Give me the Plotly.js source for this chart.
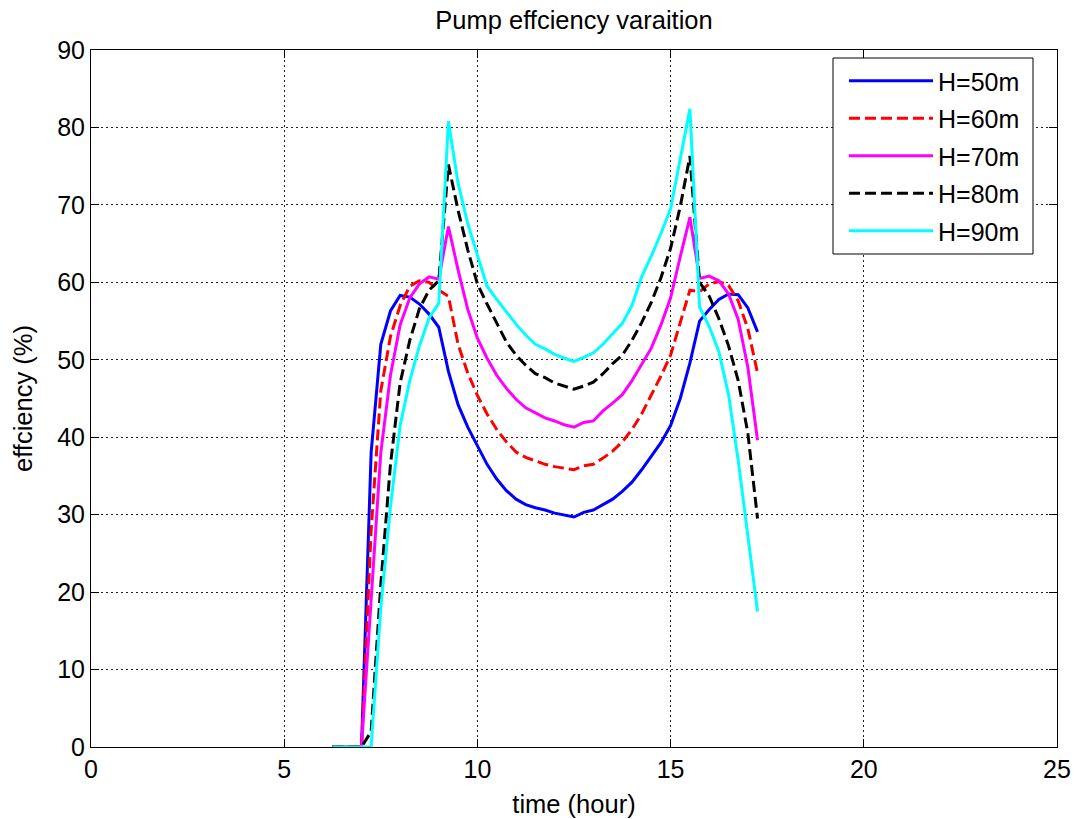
<!DOCTYPE html>
<html>
<head>
<meta charset="utf-8">
<script src="https://cdn.plot.ly/plotly-3.0.1.min.js"></script>
<style>html,body{margin:0;padding:0;background:#fff;}#chart{width:1074px;height:819px;}</style>
</head>
<body>
<div id="chart"></div>
<script>
var timeHours = [6.25,6.5,6.75,7.0,7.25,7.5,7.75,8.0,8.25,8.5,8.75,9.0,9.25,9.5,9.75,10.0,10.25,10.5,10.75,11.0,11.25,11.5,11.75,12.0,12.25,12.5,12.75,13.0,13.25,13.5,13.75,14.0,14.25,14.5,14.75,15.0,15.25,15.5,15.75,16.0,16.25,16.5,16.75,17.0,17.25];

var effH50 = [0,0,0,0,38,52,56.3,58.3,58.1,57.2,55.9,54.2,48.5,44.2,41.3,38.9,36.5,34.6,33.1,32,31.3,30.9,30.6,30.2,29.9,29.7,30.3,30.6,31.3,32,33,34.2,35.8,37.5,39.3,41.5,45,49.6,55,56.5,57.8,58.5,58.4,56.7,53.6];
var effH60 = [0,0,0,0,28,46,53,57,59.5,60.2,60,59,58.2,52,48.3,45.4,43,41,39.4,38.1,37.4,36.9,36.5,36.2,36,35.8,36.3,36.5,37.3,38.2,39.4,41,43,45.4,47.9,50.6,54.8,59,58.8,59.8,60.1,59.6,57.6,54,48.3];
var effH70 = [0,0,0,0,19,38,48,54.5,58,59.8,60.7,60.4,67.2,61.6,56.5,52.8,50.2,48,46.3,44.9,43.8,43.1,42.5,42.1,41.6,41.3,41.9,42.1,43.4,44.4,45.5,47.3,49.4,51.5,54.5,58,63.3,68.4,60.5,60.8,60.2,58.5,55.2,49,39.6];
var effH80 = [0,0,0,0,2,21,36.5,47,52.5,56.6,59,60.2,75.2,69.3,64.2,59.8,57.2,54.8,52.3,50.6,49.3,48.2,47.7,47,46.6,46.2,46.6,47.1,48.2,49.5,50.6,52.5,54.8,57.4,60.6,64.4,69.8,76.3,60,58.2,55.3,51.8,47.3,40.5,29.5];
var effH90 = [0,0,0,0,0,18,31,41.5,47.3,51.8,55.4,57.3,80.8,72.8,67.6,63.5,59.5,57.8,56.2,54.6,53.2,52,51.4,50.7,50.2,49.8,50.3,50.9,52,53.4,54.7,57,60.7,63.4,66.3,69.5,75.8,82.4,56.8,54.3,51,45.5,37,27.5,17.5];

var seriesNames = ['H=50m','H=60m','H=70m','H=80m','H=90m'];
var xTickVals = [0,5,10,15,20,25];
var yTickVals = [0,10,20,30,40,50,60,70,80,90];

var seriesData = [effH50, effH60, effH70, effH80, effH90];
var seriesColors = ['#0000ff','#ff0000','#ff00ff','#000000','#00ffff'];
var seriesDash = ['solid','11px,5px','solid','11px,5px','solid'];

var traces = seriesData.map(function(ys, i){
  return {
    x: timeHours, y: ys, type:'scatter', mode:'lines', name: seriesNames[i],
    legendgroup: 'g' + i,
    line:{color:seriesColors[i], width:3, dash:seriesDash[i]}
  };
});

var fontFam = 'Liberation Sans, Arial, Helvetica, sans-serif';
var axisCommon = {
  ticks:'inside', ticklen:8, tickwidth:1, tickcolor:'#000',
  showline:true, linecolor:'#000', linewidth:1, mirror:'ticks',
  showgrid:true, gridcolor:'#222', gridwidth:1, griddash:'2px,3px',
  zeroline:false, fixedrange:true,
  tickfont:{family:fontFam, size:25, color:'#000'}
};

// plot area in pixels: left 91, right 1057, top 50, bottom 747
var legendBox = {left:833, right:1033, top:58, bottom:254};
function px2paperX(p){ return (p-91)/966; }
function px2paperY(p){ return (747-p)/697; }

var layout = {
  width:1074, height:819,
  margin:{l:91, r:17, t:50, b:72, pad:0},
  paper_bgcolor:'#ffffff', plot_bgcolor:'#ffffff',
  font:{family:fontFam, size:25, color:'#000'},
  title:{text:'Pump effciency varaition', x:0.5, xref:'paper', xanchor:'center',
         y:1-11/819, yref:'container', yanchor:'top',
         font:{family:fontFam, size:25.5, color:'#000'}},
  xaxis:Object.assign({}, axisCommon, {
    range:[0,25], tickmode:'array', tickvals:xTickVals,
    title:{text:'time (hour)', font:{family:fontFam, size:25.5, color:'#000'}, standoff:13}
  }),
  yaxis:Object.assign({}, axisCommon, {
    range:[0,90], tickmode:'array', tickvals:yTickVals,
    title:{text:'effciency (%)', font:{family:fontFam, size:25.5, color:'#000'}, standoff:17}
  }),
  shapes:[{type:'rect', xref:'paper', yref:'paper', layer:'above',
           x0:px2paperX(legendBox.left), x1:px2paperX(legendBox.right),
           y0:px2paperY(legendBox.bottom), y1:px2paperY(legendBox.top),
           line:{color:'#000', width:1}, fillcolor:'#ffffff'}],
  showlegend:true,
  legend:{x:px2paperX(844), xanchor:'left', y:px2paperY(58), yanchor:'top',
          bgcolor:'rgba(0,0,0,0)', borderwidth:0,
          font:{family:fontFam, size:25, color:'#000'}, itemwidth:84, tracegroupgap:2}
};

Plotly.newPlot('chart', traces, layout, {displayModeBar:false, staticPlot:true});
</script>
</body>
</html>
